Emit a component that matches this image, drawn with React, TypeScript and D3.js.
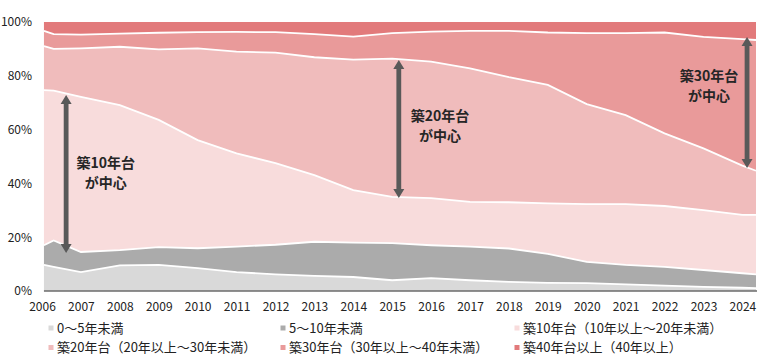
import React, { useEffect, useRef } from 'react';
import * as d3 from 'd3';

// 築年数別の構成比（%）
const years = [
  2006.05, 2006.3, 2007, 2008, 2009, 2010, 2011, 2012, 2013, 2014, 2015,
  2016, 2017, 2018, 2019, 2020, 2021, 2022, 2023, 2024, 2024.35,
];

const keys = [
  '0～5年未満',
  '5～10年未満',
  '築10年台（10年以上～20年未満）',
  '築20年台（20年以上～30年未満）',
  '築30年台（30年以上～40年未満）',
  '築40年台以上（40年以上）',
];

const age0to5 = [9.7, 9.0, 7.0, 9.5, 9.7, 8.5, 7.0, 6.2, 5.6, 5.2, 4.0, 4.8, 4.0, 3.4, 3.0, 2.9, 2.5, 2.0, 1.5, 1.2, 1.1];
const age5to10 = [7.3, 9.8, 7.5, 5.7, 6.6, 7.4, 9.5, 11.0, 12.7, 12.8, 13.8, 12.2, 12.5, 12.4, 10.8, 7.9, 7.2, 7.0, 6.3, 5.4, 5.1];
const age10s = [57.7, 55.7, 57.7, 53.9, 47.3, 40.2, 34.7, 30.3, 24.8, 19.5, 17.2, 17.5, 16.6, 17.2, 18.8, 21.5, 22.6, 22.6, 22.3, 21.7, 22.1];
const age20s = [16.3, 15.5, 18.0, 21.7, 26.2, 34.1, 37.8, 41.1, 43.8, 48.5, 51.4, 50.8, 49.7, 46.5, 44.0, 37.2, 33.1, 27.0, 22.9, 18.3, 16.4];
const age30s = [5.7, 5.5, 5.1, 4.9, 6.2, 6.0, 7.3, 7.6, 8.6, 8.6, 9.5, 11.1, 13.9, 17.2, 19.5, 26.4, 30.5, 37.5, 41.5, 47.0, 48.6];
const age40plus = [3.3, 4.5, 4.7, 4.3, 4.0, 3.8, 3.7, 3.8, 4.5, 5.4, 4.1, 3.6, 3.3, 3.3, 3.9, 4.1, 4.1, 3.9, 5.5, 6.4, 6.7];

const seriesValues = [age0to5, age5to10, age10s, age20s, age30s, age40plus];

const xTicks = [
  2006, 2007, 2008, 2009, 2010, 2011, 2012, 2013, 2014, 2015, 2016, 2017,
  2018, 2019, 2020, 2021, 2022, 2023, 2024,
];
const yTicks = [0, 20, 40, 60, 80, 100];

// 注記（矢印の位置は年と%で指定）
const notes = [
  { t: 2006.62, from: 14.1, to: 72.9, lx: 2007.64, ly: 47.6, lines: ['築10年台', 'が中心'] },
  { t: 2015.17, from: 34.6, to: 85.9, lx: 2016.23, ly: 65.2, lines: ['築20年台', 'が中心'] },
  { t: 2024.12, from: 45.7, to: 94.4, lx: 2023.14, ly: 80.0, lines: ['築30年台', 'が中心'] },
];

const colors = ['#d9d9d9', '#ababab', '#f8dcdc', '#f0bcbc', '#e99a9a', '#e27a7b'];
const FONT = "'Noto Sans CJK JP', 'Noto Sans', sans-serif";

export default function App() {
  const svgRef = useRef(null);

  useEffect(() => {
    const svg = d3.select(svgRef.current);
    svg.selectAll('*').remove();

    const x = d3.scaleLinear().domain([2006, 2024.35]).range([42, 756]);
    const y = d3.scaleLinear().domain([0, 100]).range([291, 22]);

    const rows = years.map((t, i) => {
      const row = { t };
      keys.forEach((k, j) => {
        row[k] = seriesValues[j][i];
      });
      return row;
    });

    const stacked = d3.stack().keys(keys)(rows);

    const area = d3
      .area()
      .x((d) => x(d.data.t))
      .y0((d) => y(d[0]))
      .y1((d) => y(d[1]));

    svg
      .append('g')
      .selectAll('path')
      .data(stacked)
      .join('path')
      .attr('fill', (d, i) => colors[i])
      .attr('d', area);

    const topLine = d3
      .line()
      .x((d) => x(d.data.t))
      .y((d) => y(d[1]));

    svg
      .append('g')
      .selectAll('path')
      .data(stacked.slice(0, -1))
      .join('path')
      .attr('fill', 'none')
      .attr('stroke', '#fff')
      .attr('stroke-width', 1.8)
      .attr('d', topLine);

    // baseline
    svg
      .append('line')
      .attr('x1', x(years[0]))
      .attr('x2', x(years[years.length - 1]) + 1)
      .attr('y1', y(0))
      .attr('y2', y(0))
      .attr('stroke', '#6b6b6b')
      .attr('stroke-width', 1.5);

    const xAxis = svg
      .append('g')
      .attr('transform', `translate(0, ${y(0)})`)
      .call(d3.axisBottom(x).tickValues(xTicks).tickFormat(d3.format('d')).tickSize(0).tickPadding(11));
    xAxis.select('.domain').remove();
    xAxis
      .selectAll('text')
      .style('font-family', FONT)
      .style('font-size', '12px')
      .attr('fill', '#222');

    const yAxis = svg
      .append('g')
      .attr('transform', 'translate(42, 0)')
      .call(d3.axisLeft(y).tickValues(yTicks).tickFormat((d) => `${d}%`).tickSize(0).tickPadding(10));
    yAxis.select('.domain').remove();
    yAxis
      .selectAll('text')
      .style('font-family', FONT)
      .style('font-size', '12px')
      .attr('fill', '#222');

    // arrows + labels
    const arrowPath = (cx, yTop, yBot) => {
      const hw = 5.5;
      const sw = 2.4;
      const hl = 9;
      return `M${cx - hw},${yTop + hl} L${cx},${yTop} L${cx + hw},${yTop + hl} L${cx + sw},${yTop + hl}
        L${cx + sw},${yBot - hl} L${cx + hw},${yBot - hl} L${cx},${yBot} L${cx - hw},${yBot - hl}
        L${cx - sw},${yBot - hl} L${cx - sw},${yTop + hl} Z`;
    };

    const noteG = svg.append('g');
    noteG
      .selectAll('path')
      .data(notes)
      .join('path')
      .attr('fill', '#595959')
      .attr('d', (d) => arrowPath(x(d.t), y(d.to), y(d.from)));

    notes.forEach((n) => {
      n.lines.forEach((line, i) => {
        noteG
          .append('text')
          .attr('x', x(n.lx))
          .attr('y', y(n.ly) + i * 20)
          .attr('text-anchor', 'middle')
          .attr('dy', '0.35em')
          .style('font-family', FONT)
          .style('font-size', '14px')
          .style('font-weight', 'bold')
          .attr('fill', '#262626')
          .text(line);
      });
    });

    // legend
    const legendPos = [
      [51, 328], [283, 328], [517, 328],
      [51, 347.5], [283, 347.5], [517, 347.5],
    ];
    const legend = svg
      .append('g')
      .selectAll('g')
      .data(keys)
      .join('g')
      .attr('transform', (d, i) => `translate(${legendPos[i][0]}, ${legendPos[i][1]})`);
    legend
      .append('rect')
      .attr('x', -2.5)
      .attr('y', -2.5)
      .attr('width', 5)
      .attr('height', 5)
      .attr('fill', (d, i) => colors[i]);
    legend
      .append('text')
      .attr('x', 6)
      .attr('dy', '0.35em')
      .style('font-family', FONT)
      .style('font-size', '13px')
      .attr('fill', '#222')
      .text((d) => d);
  }, []);

  return (
    <svg
      ref={svgRef}
      width={780}
      height={360}
      style={{ position: 'absolute', left: 0, top: 0, background: '#fff' }}
    />
  );
}
